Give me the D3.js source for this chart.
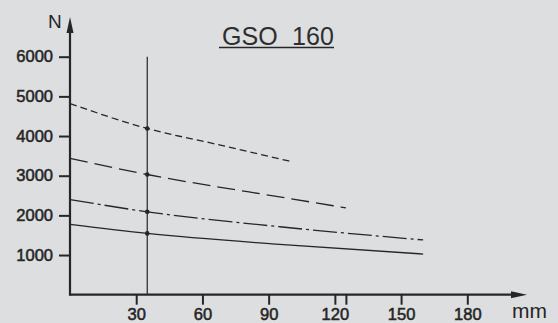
<!DOCTYPE html>
<html>
<head>
<meta charset="utf-8">
<script src="https://cdn.jsdelivr.net/npm/d3@7.9.0/dist/d3.min.js"></script>
<style>
  html, body { margin: 0; padding: 0; background: #dddee0; }
  svg { display: block; }
  svg text { font-family: "Liberation Sans", Arial, sans-serif; }
</style>
</head>
<body>
<svg id="chart" width="558" height="323"></svg>
<script>
// data (x in mm, y in N)
const xTickValues = [30, 60, 90, 120, 150, 180];
const yTickValues = [1000, 2000, 3000, 4000, 5000, 6000];
const markX = 35;

const solidX = [0, 35, 95, 160];
const solidY = [1775, 1545, 1270, 1025];

const dashDotX = [0, 35, 95, 160];
const dashDotY = [2400, 2090, 1713, 1380];

const longDashX = [0, 35, 100, 125];
const longDashY = [3435, 3030, 2420, 2190];

const shortDashX = [0, 35, 65, 100];
const shortDashY = [4820, 4190, 3810, 3360];

const ink = '#262626';
const svg = d3.select('#chart');

let x = d3.scaleLinear().domain([0, 180]).range([70, 467.3]);
let y = d3.scaleLinear().domain([0, 6000]).range([294.7, 56.7]);

// axes ticks + labels
let xAxis = svg.append('g')
  .attr('transform', `translate(0,${y(0)})`)
  .call(d3.axisBottom(x).tickValues([...xTickValues, 125]).tickSize(10).tickPadding(4)
    .tickFormat(d => d === 125 ? '' : d));

let yAxis = svg.append('g')
  .attr('transform', `translate(${x(0)},0)`)
  .call(d3.axisLeft(y).tickValues(yTickValues).tickSize(11).tickPadding(6)
    .tickFormat(d3.format('d')));

[xAxis, yAxis].forEach(g => {
  g.attr('font-size', null).attr('font-family', null);
  g.select('.domain').remove();
  g.selectAll('line').attr('stroke', ink).attr('stroke-width', 2);
  g.selectAll('text')
    .style('fill', ink)
    .style('font-size', '16.5px')
    .style('stroke', ink)
    .style('stroke-width', '0.55px');
});

// axis lines with arrows
svg.append('line')
  .attr('x1', x(0)).attr('x2', 515).attr('y1', y(0)).attr('y2', y(0))
  .attr('stroke', ink).attr('stroke-width', 2.2);
svg.append('path')
  .attr('d', `M527,${y(0)} L511,${y(0) - 3.5} L511,${y(0) + 3.5} Z`)
  .attr('fill', ink);

svg.append('line')
  .attr('x1', x(0)).attr('x2', x(0)).attr('y1', y(0) + 1).attr('y2', 30)
  .attr('stroke', ink).attr('stroke-width', 2.2);
svg.append('path')
  .attr('d', `M${x(0)},17 L${x(0) - 3.5},33 L${x(0) + 3.5},33 Z`)
  .attr('fill', ink);

svg.append('text').attr('x', 48).attr('y', 28).text('N')
  .style('font-size', '19px').style('fill', ink);
svg.append('text').attr('x', 512).attr('y', 318).text('mm')
  .style('font-size', '21px').style('fill', ink);

// title
svg.append('text').attr('x', 222).attr('y', 45).text('GSO\u00a0\u00a0160')
  .style('font-size', '25px').style('fill', '#2e2e2e').attr('textLength', 112);
svg.append('line')
  .attr('x1', 219).attr('x2', 334).attr('y1', 47.5).attr('y2', 47.5)
  .attr('stroke', ink).attr('stroke-width', 1.6);

// vertical marker line at 35 mm
svg.append('line')
  .attr('x1', x(markX)).attr('x2', x(markX)).attr('y1', y(0)).attr('y2', y(6000))
  .attr('stroke', ink).attr('stroke-width', 1.2);

// curves
let line = d3.line().x(d => x(d[0])).y(d => y(d[1])).curve(d3.curveMonotoneX);

let curves = [
  { xs: solidX, ys: solidY, dash: null },
  { xs: dashDotX, ys: dashDotY, dash: '24,4,3,4' },
  { xs: longDashX, ys: longDashY, dash: '18,7' },
  { xs: shortDashX, ys: shortDashY, dash: '7,4' }
];

curves.forEach(c => {
  let pts = c.xs.map((v, i) => [v, c.ys[i]]);
  svg.append('path')
    .attr('d', line(pts))
    .attr('fill', 'none')
    .attr('stroke', ink)
    .attr('stroke-width', 1.3)
    .attr('stroke-dasharray', c.dash);
  let atMark = pts.find(p => p[0] === markX);
  svg.append('circle')
    .attr('cx', x(atMark[0])).attr('cy', y(atMark[1])).attr('r', 2.3)
    .attr('fill', ink);
});
</script>
</body>
</html>
